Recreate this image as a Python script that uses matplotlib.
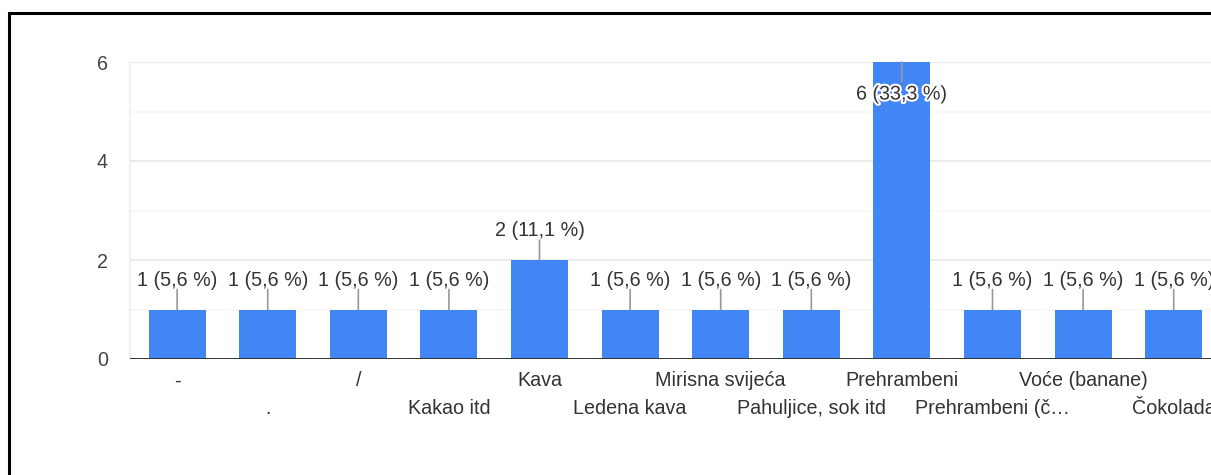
import matplotlib
matplotlib.use("Agg")
import matplotlib.pyplot as plt
import matplotlib.patheffects as pe
from matplotlib.patches import Rectangle

categories = ["-", ".", "/", "Kakao itd", "Kava", "Ledena kava", "Mirisna svijeća",
              "Pahuljice, sok itd", "Prehrambeni", "Prehrambeni (č…", "Voće (banane)", "Čokolada"]
values = [1, 1, 1, 1, 2, 1, 1, 1, 6, 1, 1, 1]
labels = ["1 (5,6 %)", "1 (5,6 %)", "1 (5,6 %)", "1 (5,6 %)", "2 (11,1 %)", "1 (5,6 %)",
          "1 (5,6 %)", "1 (5,6 %)", "6 (33,3 %)", "1 (5,6 %)", "1 (5,6 %)", "1 (5,6 %)"]
yticks = [0, 2, 4, 6]

W, H = 1211, 475
plt.rcParams['font.family'] = ['Liberation Sans', 'DejaVu Sans']
fig = plt.figure(figsize=(W / 100, H / 100), dpi=100)

left, right, top, bottom = 130, 1219, 62, 359
ax = fig.add_axes([left / W, 1 - bottom / H, (right - left) / W, (bottom - top) / H])

FS = 14.2
TXT = "#333333"

x = list(range(len(categories)))
ax.bar(x, values, width=0.63, color="#4285F4", zorder=3)
ax.set_xlim(-0.52, len(categories) - 0.5)
ax.set_ylim(0, 6)

# gridlines
for g in [1, 3, 5]:
    ax.axhline(g, color="#f7f7f7", lw=1.2, zorder=1)
for g in [2, 4, 6]:
    ax.axhline(g, color="#ebebeb", lw=1.4, zorder=1)
ax.axhline(0, color="#333333", lw=1.4, zorder=4)

for s in ["top", "right", "bottom"]:
    ax.spines[s].set_visible(False)
ax.spines["left"].set_color("#ededed")
ax.spines["left"].set_linewidth(1.2)

ax.set_yticks(yticks)
ax.set_yticklabels([str(t) for t in yticks], fontsize=FS, color="#444444")
ax.tick_params(axis="y", length=0, pad=16)
ax.set_xticks(x)
ax.set_xticklabels([])
ax.tick_params(axis="x", length=0)

# x category labels, alternating rows
for i, c in enumerate(categories):
    off = -22 if i % 2 == 0 else -50
    ax.annotate(c, (i, 0), xytext=(0, off), textcoords="offset pixels",
                ha="center", va="center", fontsize=FS, color=TXT,
                annotation_clip=False)

# value labels with leader lines
for i, (v, lab) in enumerate(zip(values, labels)):
    if v >= 6:
        ax.annotate("", (i, v), xytext=(0, -20), textcoords="offset pixels",
                    arrowprops=dict(arrowstyle="-", color="#999999", lw=1.2, shrinkA=0, shrinkB=0),
                    zorder=5)
        ax.annotate(lab, (i, v), xytext=(0, -32), textcoords="offset pixels",
                    ha="center", va="center", fontsize=FS, color=TXT, zorder=6,
                    path_effects=[pe.withStroke(linewidth=3, foreground="white")])
    else:
        ax.annotate("", (i, v), xytext=(0, 20), textcoords="offset pixels",
                    arrowprops=dict(arrowstyle="-", color="#999999", lw=1.2, shrinkA=0, shrinkB=0),
                    zorder=5)
        ax.annotate(lab, (i, v), xytext=(0, 29), textcoords="offset pixels",
                    ha="center", va="center", fontsize=FS, color=TXT, zorder=6,
                    annotation_clip=False)

# black frame (left and top visible)
fig.patches.append(Rectangle((8.5 / W, -0.1), 1.2, 1 - 13.5 / H + 0.1,
                             transform=fig.transFigure, fill=False,
                             edgecolor="black", lw=2.2, zorder=10))

fig.savefig("out.png", dpi=100)
